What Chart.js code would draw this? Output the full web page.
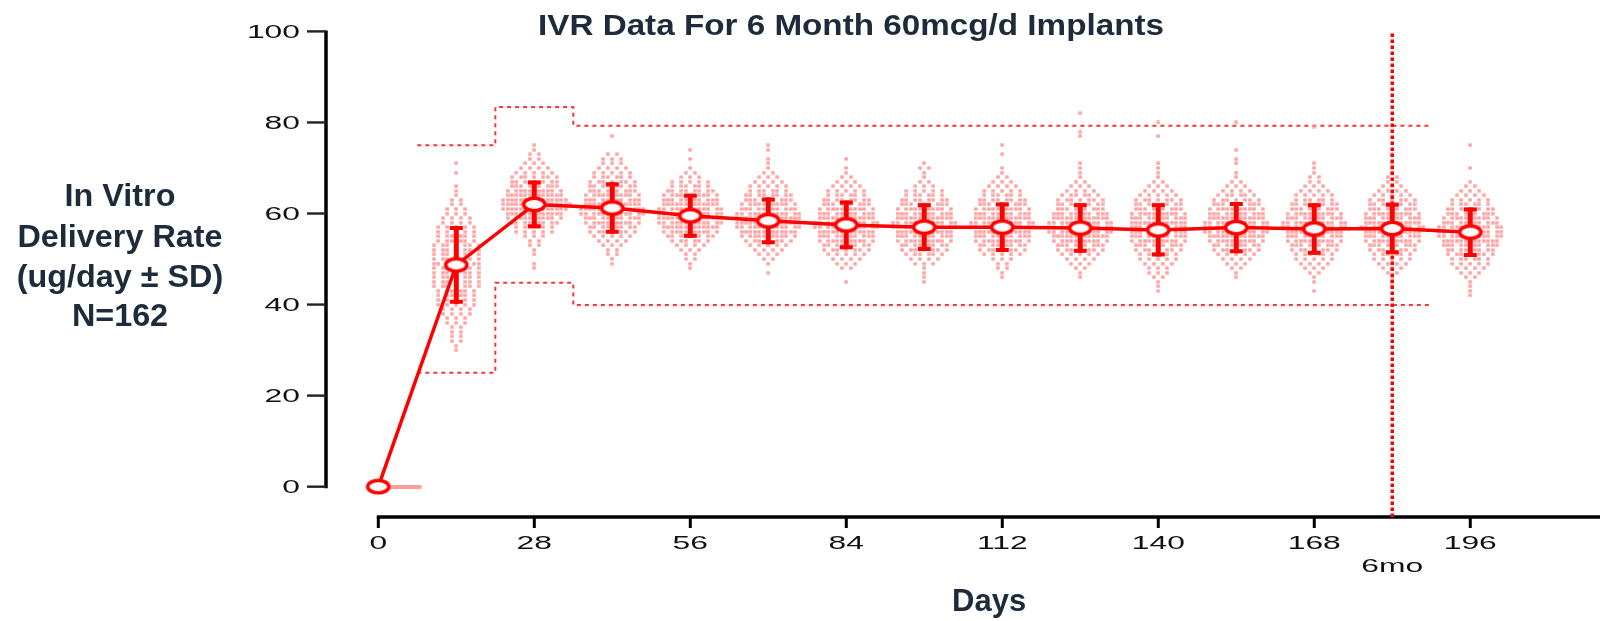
<!DOCTYPE html>
<html>
<head>
<meta charset="utf-8">
<title>IVR Data For 6 Month 60mcg/d Implants</title>
<script src="https://cdn.jsdelivr.net/npm/chart.js@4/dist/chart.umd.min.js"></script>
<style>
  body { margin: 0; background: #fff; }
  #wrap { width: 1600px; height: 621px; position: relative; }
</style>
</head>
<body>
<div id="wrap"><canvas id="ivrChart"></canvas></div>
<script>
// sampling days and summary stats (ug/day)
const days = [0, 14, 28, 42, 56, 70, 84, 98, 112, 126, 140, 154, 168, 182, 196];
const meanRate = [0, 48.7, 62.0, 61.2, 59.5, 58.4, 57.5, 57.0, 57.0, 56.8, 56.4, 56.9, 56.6, 56.7, 55.9];
const sdRate = [null, 8.1, 4.8, 5.2, 4.4, 4.7, 4.9, 4.8, 5.0, 5.0, 5.4, 5.2, 5.2, 5.2, 5.0];

// spec limits (stepped)
const specDays = [7, 21, 35, 189];
const upperLimit = [75, 83.4, 79.3, 79.3];
const lowerLimit = [25, 44.8, 39.9, 39.9];
const sixMonthDay = 182;

// individual implants: counts per 1 ug/day bin, first bin value in binStart
const binStart = [0, 30, 48, 49, 48, 47, 45, 45, 46, 46, 43, 46, 43, 44, 42];
const binCounts = [
  [162],
  [1,1,2,2,2,2, 3,3,4,4,5,5, 6,6,7,7,7,7, 7,8,7,7,7,7, 6,6,5,5,4,4, 3,3,2,2,1,1, 1,0,0,1,0,1],
  [1,1,0,1,1,2,2,3, 5,6,8,10, 12,15,16,15, 12,10,9,8, 7,5,4,3, 2,2,1,1],
  [1,1,2,2,3,4, 5,7,8,10, 11,13,14,12, 11,10,9,8, 7,6,5,4, 3,3,2,0,0,0,1],
  [1,1,2,2,3,4, 6,8,10,12, 13,14,13,13, 12,11,10,8, 6,5,3,2, 1,0,1,0,1],
  [1,0,1,2,3,4, 5,7,10,12, 13,14,14,13, 11,10,9,8, 6,5,4,3, 2,1,1,1, 0,1,1],
  [1,0,0,2,3,4, 5,7,8,10, 11,12,13,13, 12,11,10,9, 8,6,5,4, 3,2,1,1, 0,1],
  [1,1,1,1,3,4, 6,7,8,10, 11,12,13,13, 12,11,10,9, 8,6,5,3, 2,1,1,2,1],
  [1,1,2,2,3,5, 7,8,10,11, 12,13,13,12, 11,10,9,8, 6,5,4,3, 2,1,1,0, 0,1,0,1],
  [1,1,2,3,4,5, 7,9,10,12, 13,13,13,12, 11,9,8,7, 6,4,3,2, 1,1,1,1, 0,0,0,0,0,1,1,0,0,0,1],
  [1,1,1,2,3,3, 4,5,6,7, 9,10,11,11, 11,12,11,10, 9,8,7,5, 4,3,2,1, 1,1,1, 0,0,0,0,0, 1,0,0,1],
  [1,1,2,3,4,5, 7,8,10,12, 13,13,13,12, 11,10,9,7, 6,4,3,2, 1,1,0,1,1,0,1, 0,0,0,0,0,1],
  [1,0,1,1,2,3, 4,5,6,7, 9,10,11,12, 13,13,11,10, 9,8,6,5, 4,3,2,2, 1,1,1, 0,0,0,0,0,0,0, 1],
  [1,1,1,2,3,4, 5,6,7,9, 10,11,12,13, 12,11,10,9, 8,7,5,4, 3,2,2,1, 1,1,0,1],
  [1,1,1,1,2,3, 4,5,6,7, 8,11,12,13, 13,13,11,10, 9,8,6,5, 4,3,2,1, 0,0,1, 0,0,0,0, 1]
];

const xTicks = [0, 28, 56, 84, 112, 140, 168, 196];
const yTicks = [0, 20, 40, 60, 80, 100];
const chartTitle = 'IVR Data For 6 Month 60mcg/d Implants';
const yTitleLines = ['In Vitro', 'Delivery Rate', '(ug/day \u00B1 SD)', 'N=162'];
const xTitle = 'Days';
const sixMonthLabel = '6mo';

const X_MIN = -9.03, X_MAX = 218.03;
const Y_MIN = -6.66, Y_MAX = 104.7;
const RED = '#ff0000';
const NAVY = '#1e2b3a';
const SANS = '"Liberation Sans", Arial, sans-serif';

// spread each bin's dots sideways around its day, snapped to a column grid
const COL = 0.8;
const cloudPoints = [];
days.forEach((d, i) => {
  binCounts[i].forEach((n, j) => {
    if (!n) return;
    const width = Math.min(15, 3.2 * Math.sqrt(n));
    const step = n > 1 ? width / n : 0;
    for (let k = 0; k < n; k++) {
      let off = (k - (n - 1) / 2) * step;
      if (step >= COL) off = Math.round(off / COL) * COL;
      cloudPoints.push({ x: d + off, y: binStart[i] + j });
    }
  });
});

const meanPoints = days.map((d, i) => ({ x: d, y: meanRate[i] }));
const upperPoints = specDays.map((d, i) => ({ x: d, y: upperLimit[i] }));
const lowerPoints = specDays.map((d, i) => ({ x: d, y: lowerLimit[i] }));

function makeMarker() {
  const c = document.createElement('canvas');
  c.width = 26; c.height = 17;
  const g = c.getContext('2d');
  g.beginPath();
  g.ellipse(13, 8.5, 10.6, 6.2, 0, 0, Math.PI * 2);
  g.fillStyle = '#fff';
  g.fill();
  g.lineWidth = 3.5;
  g.strokeStyle = RED;
  g.stroke();
  return c;
}

function makeDot() {
  const c = document.createElement('canvas');
  c.width = 4; c.height = 4;
  const g = c.getContext('2d');
  g.fillStyle = '#ff9c9c';
  g.fillRect(0.3, 0.4, 3.4, 3.2);
  return c;
}

function stretchText(ctx, text, x, y, font, color, align, sx) {
  ctx.save();
  ctx.font = font;
  ctx.fillStyle = color;
  ctx.textAlign = align;
  ctx.textBaseline = 'alphabetic';
  ctx.translate(x, y);
  ctx.scale(sx, 1);
  ctx.fillText(text, 0, 0);
  ctx.restore();
}

const ivrDecor = {
  id: 'ivrDecor',
  beforeDatasetsDraw(chart) {
    const { ctx, chartArea, scales: { x, y } } = chart;
    ctx.save();
    ctx.lineCap = 'butt';
    // y axis, only over 0..100
    const axX = chartArea.left - 2;
    ctx.strokeStyle = '#000';
    ctx.lineWidth = 3.5;
    ctx.beginPath();
    ctx.moveTo(axX, y.getPixelForValue(100) - 1);
    ctx.lineTo(axX, y.getPixelForValue(0) + 1.5);
    ctx.stroke();
    ctx.strokeStyle = '#222';
    ctx.lineWidth = 2.4;
    yTicks.forEach(v => {
      const py = y.getPixelForValue(v);
      ctx.beginPath();
      ctx.moveTo(axX - 19, py);
      ctx.lineTo(axX, py);
      ctx.stroke();
    });
    // x axis, starting at day 0
    const axY = chartArea.bottom;
    ctx.strokeStyle = '#000';
    ctx.lineWidth = 3.5;
    ctx.beginPath();
    ctx.moveTo(x.getPixelForValue(0) - 1.5, axY);
    ctx.lineTo(chart.width, axY);
    ctx.stroke();
    ctx.lineWidth = 3;
    xTicks.forEach(v => {
      const px = x.getPixelForValue(v);
      ctx.beginPath();
      ctx.moveTo(px, axY);
      ctx.lineTo(px, axY + 11);
      ctx.stroke();
    });
    ctx.restore();
  },
  beforeDatasetDraw(chart, args) {
    if (chart.data.datasets[args.index].label !== 'cloud') return;
    // nothing left of day 0
    const { ctx, chartArea, scales: { x } } = chart;
    const left = x.getPixelForValue(0);
    ctx.save();
    ctx.beginPath();
    ctx.rect(left, chartArea.top, chartArea.right - left, chartArea.bottom - chartArea.top);
    ctx.clip();
  },
  afterDatasetDraw(chart, args) {
    const label = chart.data.datasets[args.index].label;
    const { ctx, scales: { x, y } } = chart;
    if (label === 'cloud') {
      ctx.restore();
      return;
    }
    if (label !== 'mean') return;
    // SD error bars with caps
    ctx.save();
    ctx.strokeStyle = RED;
    ctx.lineCap = 'butt';
    days.forEach((d, i) => {
      if (sdRate[i] == null) return;
      const px = x.getPixelForValue(d);
      const top = y.getPixelForValue(meanRate[i] + sdRate[i]);
      const bot = y.getPixelForValue(meanRate[i] - sdRate[i]);
      ctx.lineWidth = 5;
      ctx.beginPath();
      ctx.moveTo(px, top - 2);
      ctx.lineTo(px, bot + 2);
      ctx.stroke();
      ctx.lineWidth = 4;
      ctx.beginPath();
      ctx.moveTo(px - 6.5, top); ctx.lineTo(px + 6.5, top);
      ctx.moveTo(px - 6.5, bot); ctx.lineTo(px + 6.5, bot);
      ctx.stroke();
    });
    ctx.restore();
  },
  afterDraw(chart) {
    const { ctx, chartArea, scales: { x, y } } = chart;
    const tickFont = '18.5px ' + SANS;
    yTicks.forEach(v => {
      stretchText(ctx, String(v), 300, y.getPixelForValue(v) + 6.6, tickFont, '#111', 'right', 1.72);
    });
    xTicks.forEach(v => {
      stretchText(ctx, String(v), x.getPixelForValue(v), chartArea.bottom + 31.5, tickFont, '#111', 'center', 1.72);
    });
    stretchText(ctx, sixMonthLabel, x.getPixelForValue(sixMonthDay), chartArea.bottom + 54.5, tickFont, '#111', 'center', 1.72);

    ctx.save();
    ctx.font = 'bold 30px ' + SANS;
    const titleSx = 626 / ctx.measureText(chartTitle).width;
    ctx.font = 'bold 31px ' + SANS;
    const ySx = 205 / ctx.measureText(yTitleLines[1]).width;
    ctx.restore();

    stretchText(ctx, chartTitle, 851, 34.5, 'bold 30px ' + SANS, NAVY, 'center', titleSx);
    const baselines = [206, 247, 287, 326];
    yTitleLines.forEach((t, i) => {
      stretchText(ctx, t, 120, baselines[i], 'bold 31px ' + SANS, NAVY, 'center', ySx);
    });
    const axisMid = (x.getPixelForValue(0) + chart.width) / 2;
    stretchText(ctx, xTitle, axisMid, 611, 'bold 31px ' + SANS, NAVY, 'center', 1);
  }
};

const markerImg = makeMarker();
const dotImg = makeDot();

new Chart(document.getElementById('ivrChart'), {
  type: 'line',
  data: {
    datasets: [
      { label: 'markers', data: meanPoints, showLine: false, pointStyle: markerImg, pointRadius: 6, order: 0 },
      { label: 'mean', data: meanPoints, borderColor: RED, borderWidth: 3.5, pointRadius: 0, order: 1 },
      { label: 'sixmo', data: [{ x: sixMonthDay, y: Y_MIN }, { x: sixMonthDay, y: 100 }],
        borderColor: RED, borderWidth: 3.5, borderDash: [3.5, 2.5], borderCapStyle: 'butt', pointRadius: 0, order: 2 },
      { label: 'cloud', data: cloudPoints, showLine: false, pointStyle: dotImg, pointRadius: 2, order: 3 },
      { label: 'upper', data: upperPoints, stepped: 'before', borderColor: '#ff3535', borderWidth: 2,
        borderDash: [4, 4], pointRadius: 0, order: 4 },
      { label: 'lower', data: lowerPoints, stepped: 'before', borderColor: '#ff3535', borderWidth: 2,
        borderDash: [4, 4], pointRadius: 0, order: 4 }
    ]
  },
  options: {
    responsive: true,
    maintainAspectRatio: false,
    animation: false,
    events: [],
    layout: { padding: { left: 328, right: 0, top: 10, bottom: 104 } },
    plugins: { legend: { display: false }, tooltip: { enabled: false } },
    scales: {
      x: { type: 'linear', min: X_MIN, max: X_MAX, display: false },
      y: { type: 'linear', min: Y_MIN, max: Y_MAX, display: false }
    }
  },
  plugins: [ivrDecor]
});
</script>
</body>
</html>
